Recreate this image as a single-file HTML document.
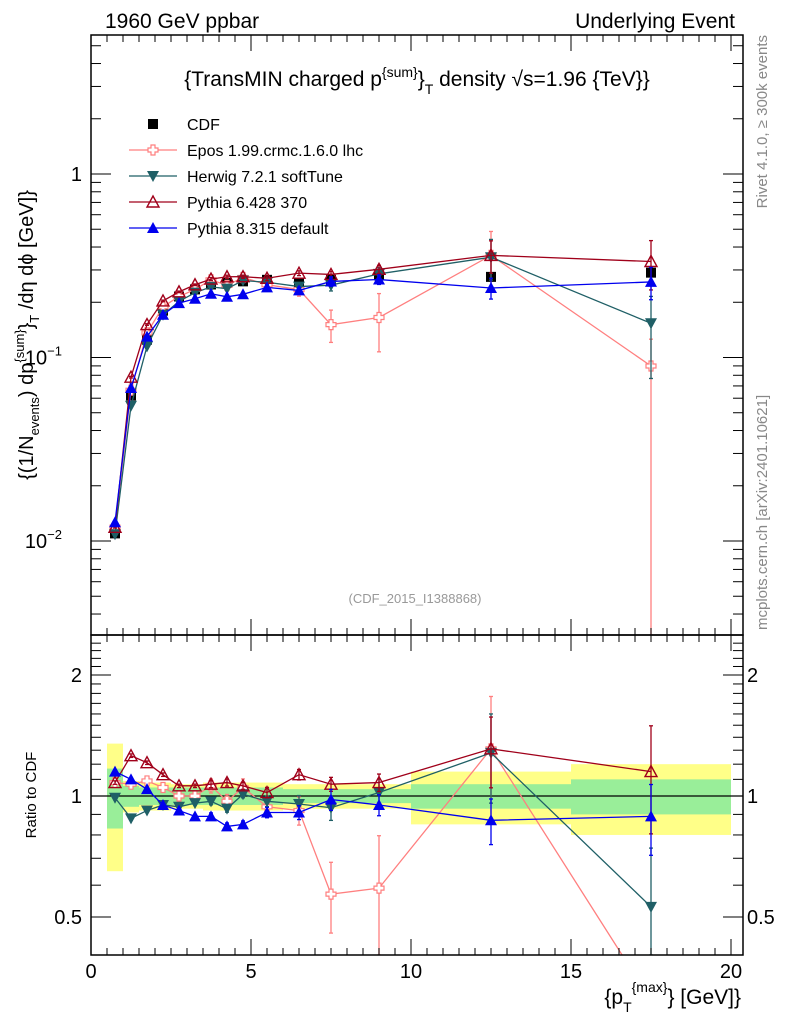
<!DOCTYPE html>
<html><head><meta charset="utf-8"><style>
html,body{margin:0;background:#fff;width:786px;height:1024px;overflow:hidden;}
svg{display:block;font-family:"Liberation Sans",sans-serif;}
</style></head><body>
<svg id="c" width="786" height="1024" viewBox="0 0 786 1024" xmlns="http://www.w3.org/2000/svg">
<text x="105" y="28" font-size="21">1960 GeV ppbar</text>
<text x="735" y="28" font-size="21" text-anchor="end">Underlying Event</text>
<text x="417" y="86" font-size="21" text-anchor="middle">{TransMIN charged p<tspan dy="-9" font-size="14">{sum}</tspan><tspan dy="9">}</tspan><tspan dy="8" font-size="14">T</tspan><tspan dy="-8"> density √s=1.96 {TeV}}</tspan></text>
<text x="415" y="603" font-size="13" fill="#999" text-anchor="middle">(CDF_2015_I1388868)</text>
<text transform="translate(767,35) rotate(-90)" font-size="15" fill="#888" text-anchor="end">Rivet 4.1.0, ≥ 300k events</text>
<text transform="translate(767,630) rotate(-90)" font-size="15" fill="#888">mcplots.cern.ch [arXiv:2401.10621]</text>
<text transform="translate(33,335) rotate(-90)" font-size="20" text-anchor="middle">{(1/N<tspan dy="6" font-size="13">events</tspan><tspan dy="-6">) dp</tspan><tspan dy="-9" font-size="13">{sum}</tspan><tspan dy="9">}</tspan><tspan dy="6" font-size="13">T</tspan><tspan dy="-6"> /dη  dϕ [GeV]}</tspan></text>
<text transform="translate(36,795) rotate(-90)" font-size="15" text-anchor="middle">Ratio to CDF</text>
<text x="741" y="1004" font-size="21" text-anchor="end">{p<tspan dy="8" font-size="14">T</tspan><tspan dy="-20" font-size="14">{max}</tspan><tspan dy="12">} [GeV]}</tspan></text>
<g id="g"></g>
</svg>
<script>
const xs=[0.75,1.25,1.75,2.25,2.75,3.25,3.75,4.25,4.75,5.5,6.5,7.5,9,12.5,17.5];
const cdf=[0.011,0.062,0.125,0.18,0.215,0.235,0.25,0.255,0.26,0.265,0.255,0.265,0.28,0.275,0.29];
const cdfErr=[0.0006,0.003,0.005,0.007,0.008,0.009,0.01,0.01,0.01,0.011,0.012,0.013,0.015,0.02,0.025];
const binEdges=[0.5,1,1.5,2,2.5,3,3.5,4,4.5,5,6,7,8,10,15,20];
const bandTot=[0.35,0.09,0.08,0.08,0.07,0.07,0.08,0.08,0.08,0.08,0.07,0.07,0.07,0.15,0.2];
const bandStat=[0.17,0.06,0.05,0.05,0.05,0.05,0.05,0.05,0.05,0.05,0.04,0.04,0.04,0.07,0.1];
const eposR=[1.08,1.07,1.09,1.05,1.0,1.0,1.06,0.97,1.05,0.94,0.92,0.57,0.59,1.31,0.31];
const eposE=[0.02,0.02,0.02,0.02,0.03,0.03,0.04,0.04,0.05,0.05,0.08,0.2,0.35,0.35,0.999];
const herR=[0.99,0.88,0.92,0.95,0.94,0.96,0.97,0.93,1.01,0.97,0.955,0.935,1.02,1.28,0.53];
const herE=[0.01,0.01,0.01,0.01,0.01,0.01,0.02,0.02,0.02,0.03,0.05,0.07,0.08,0.25,0.5];
const py6R=[1.08,1.26,1.21,1.13,1.06,1.06,1.07,1.08,1.06,1.02,1.13,1.07,1.08,1.31,1.15];
const py6E=[0.01,0.01,0.01,0.01,0.01,0.01,0.02,0.02,0.02,0.03,0.03,0.04,0.05,0.2,0.3];
const py8R=[1.15,1.1,1.04,0.95,0.92,0.89,0.89,0.84,0.85,0.91,0.91,0.98,0.95,0.87,0.89];
const py8E=[0.01,0.01,0.01,0.01,0.01,0.01,0.02,0.02,0.02,0.03,0.04,0.06,0.06,0.13,0.2];
const xTicks=[0,5,10,15,20];

const NS="http://www.w3.org/2000/svg";
const G=document.getElementById('g');
function el(t,a,p){const e=document.createElementNS(NS,t);for(const k in a)e.setAttribute(k,a[k]);(p||G).appendChild(e);return e;}
const L=91,R=743,MT=35,MB=635,RT=635,RB=955;
const X=v=>91+32*v;
const YM=v=>174-183.5*Math.log10(v);
const YR=v=>796-121*Math.log2(v);
const MMIN=Math.pow(10,-2-(MB-174-367)/183.5), RMIN=Math.pow(2,-(RB-796)/121);
const clipM=el('clipPath',{id:'cm'});el('rect',{x:L,y:MT,width:R-L,height:MB-MT},clipM);
const clipR=el('clipPath',{id:'cr'});el('rect',{x:L,y:RT,width:R-L,height:RB-RT},clipR);
const gm=el('g',{'clip-path':'url(#cm)'});
const gr=el('g',{'clip-path':'url(#cr)'});

for(let i=0;i<bandTot.length;i++){
 const x0=X(binEdges[i]),x1=X(binEdges[i+1]);
 const b=el('rect',{x:x0,y:YR(1+bandTot[i]),width:x1-x0,height:YR(1-bandTot[i])-YR(1+bandTot[i]),fill:'#ffff88'},gr);
 
}
for(let i=0;i<bandStat.length;i++){
 const x0=X(binEdges[i]),x1=X(binEdges[i+1]);
 const b=el('rect',{x:x0,y:YR(1+bandStat[i]),width:x1-x0,height:YR(1-bandStat[i])-YR(1+bandStat[i]),fill:'#99ee99'},gr);
 
}
const one=el('line',{x1:L,x2:R,y1:YR(1),y2:YR(1),stroke:'#000','stroke-width':1.2},gr);


function marker(p,type,x,y,col){
 let m;
 if(type==='sq')m=el('rect',{x:x-5,y:y-5,width:10,height:10,fill:'#000'},p);
 else if(type==='cross')m=el('path',{d:`M${x-2} ${y-5}h4v3h3v4h-3v3h-4v-3h-3v-4h3z`,fill:'#fff',stroke:col,'stroke-width':1.2},p);
 else if(type==='down')m=el('path',{d:`M${x-6} ${y-5}L${x+6} ${y-5}L${x} ${y+6}Z`,fill:col},p);
 else if(type==='up')m=el('path',{d:`M${x-6} ${y+5}L${x+6} ${y+5}L${x} ${y-6}Z`,fill:col},p);
 else m=el('path',{d:`M${x-6} ${y+5}L${x+6} ${y+5}L${x} ${y-6}Z`,fill:'none',stroke:col,'stroke-width':1.4},p);
 return m;
}
function series(name,rat,err,col,type){
 const mainV=rat.map((r,i)=>r*cdf[i]);
 [[gm,mainV,YM,MMIN],[gr,rat,YR,RMIN]].forEach(([p,vals,Y,mn],k)=>{
  const pts=[];
  for(let i=0;i<xs.length;i++){
   let x=xs[i],v=vals[i];
   if(v<mn){ // clip segment at axis minimum
     const px=xs[i-1],pv=vals[i-1];
     const f=(Math.log(pv)-Math.log(mn))/(Math.log(pv)-Math.log(v));
     pts.push(X(px+(x-px)*f)+','+Y(mn)); break;
   }
   pts.push(X(x)+','+Y(v));
  }
  const pl=el('polyline',{points:pts.join(' '),fill:'none',stroke:col,'stroke-width':1.3},p);
  
  xs.forEach((x,i)=>{
   if(vals[i]<mn)return;
   const lo=Math.max(vals[i]*(1-err[i]),mn),hi=vals[i]*(1+Math.min(err[i],0.4));
   el('line',{x1:X(x),x2:X(x),y1:Y(lo),y2:Y(hi),stroke:col,'stroke-width':1.3},p);
   el('line',{x1:X(x)-2,x2:X(x)+2,y1:Y(lo),y2:Y(lo),stroke:col,'stroke-width':1.3},p);
   el('line',{x1:X(x)-2,x2:X(x)+2,y1:Y(hi),y2:Y(hi),stroke:col,'stroke-width':1.3},p);
   const m=marker(p,type,X(x),Y(vals[i]),col);
   
  });
 });
}
xs.forEach((x,i)=>{
 el('line',{x1:X(x),x2:X(x),y1:YM(cdf[i]-cdfErr[i]),y2:YM(cdf[i]+cdfErr[i]),stroke:'#000'},gm);
 const m=marker(gm,'sq',X(x),YM(cdf[i]),'#000');
 
});
series('epos',eposR,eposE,'#ff7f7f','cross');
series('herwig',herR,herE,'#1f5f66','down');
series('pythia6',py6R,py6E,'#a0001a','open');
series('pythia8',py8R,py8E,'#0000ee','up');

[[MT,MB],[RT,RB]].forEach(([t,b],k)=>{
 const f=el('rect',{x:L,y:t,width:R-L,height:b-t,fill:'none',stroke:'#000','stroke-width':1.5});
 
 for(let v=0;v<=20.3;v+=0.5){const maj=Math.abs(v%5)<1e-9;const len=maj?16:7;
  el('line',{x1:X(v),x2:X(v),y1:b,y2:b-len,stroke:'#000'});el('line',{x1:X(v),x2:X(v),y1:t,y2:t+len,stroke:'#000'});}
});
for(let d=-3;d<=0;d++)for(let m=1;m<10;m++){const v=m*Math.pow(10,d);const y=YM(v);if(y<MT||y>MB)continue;
 const len=m===1?20:10;el('line',{x1:L,x2:L+len,y1:y,y2:y,stroke:'#000'});el('line',{x1:R,x2:R-len,y1:y,y2:y,stroke:'#000'});}
const yl=[['1',1],['10',0.1,'−1'],['10',0.01,'−2']];
yl.forEach(([t,v,s])=>{const tx=el('text',{x:s?62:82,y:YM(v)+7,'font-size':20,'text-anchor':'end'});tx.textContent=t;
 if(s){const ts=el('tspan',{dy:-9,'font-size':13},tx);ts.textContent=s;}
 });
for(let v=0.4;v<=2.5;v+=0.1){const y=YR(v);if(y<RT||y>RB)continue;const maj=[0.5,1,2].some(q=>Math.abs(q-v)<1e-6);const len=maj?20:10;
 el('line',{x1:L,x2:L+len,y1:y,y2:y,stroke:'#000'});el('line',{x1:R,x2:R-len,y1:y,y2:y,stroke:'#000'});}
[['2',2],['1',1],['0.5',0.5]].forEach(([t,v])=>{
 const a=el('text',{x:82,y:YR(v)+7,'font-size':20,'text-anchor':'end'});a.textContent=t;
 const b=el('text',{x:747,y:YR(v)+7,'font-size':20});b.textContent=t;});
xTicks.forEach(v=>{const t=el('text',{x:X(v),y:978,'font-size':20,'text-anchor':'middle'});t.textContent=v;
 });
const leg=[['CDF','#000','sq'],['Epos 1.99.crmc.1.6.0 lhc','#ff7f7f','cross'],['Herwig 7.2.1 softTune','#1f5f66','down'],['Pythia 6.428 370','#a0001a','open'],['Pythia 8.315 default','#0000ee','up']];
leg.forEach(([t,c,ty],i)=>{const y=124+26*i;const g=el('g',{});
 
 if(ty!=='sq')el('line',{x1:129,x2:177,y1:y,y2:y,stroke:c,'stroke-width':1.3},g);
 marker(g,ty,153,y,c);const tx=el('text',{x:187,y:y+6,'font-size':16},g);tx.textContent=t;});
</script>
</body></html>
